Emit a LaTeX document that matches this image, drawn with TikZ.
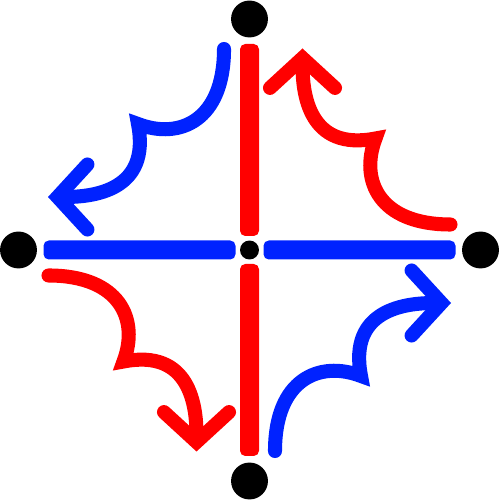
\documentclass[tikz,border=0pt]{standalone}
\usepackage{tikz}
\usetikzlibrary{arrows.meta,calc}

\definecolor{flowred}{RGB}{255,0,0}
\definecolor{flowblue}{RGB}{0,34,255}

\begin{document}
\begin{tikzpicture}[
    x=0.02cm, y=0.02cm,
    dot/.style={circle, fill=black, inner sep=0pt, minimum size=21pt},
    hub/.style={circle, fill=black, inner sep=0pt, minimum size=10.8pt},
    bar/.style={rounded corners=3pt},
    swirl/.style={line width=8pt, line cap=round, line join=miter,
        -{Straight Barb[length=17pt, width=37pt, line cap=round, line join=miter]}}
]
\useasboundingbox (0,0) rectangle (499,500);

% the five points
\node[hub] (c) at (249.5,250) {};
\node[dot] (n) at (249.5,481) {};
\node[dot] (s) at (249.5,19) {};
\node[dot] (w) at (18.5,250) {};
\node[dot] (e) at (480.5,250) {};

% the four bars
\fill[flowred, bar] ($(c)+(-9.5,14)$) rectangle ($(n)+(9.5,-25)$);
\fill[flowred, bar] ($(c)+(-9.5,-14)$) rectangle ($(s)+(9.5,25)$);
\fill[flowblue, bar] ($(c)+(-14,-9.5)$) rectangle ($(w)+(25,9.5)$);
\fill[flowblue, bar] ($(c)+(14,-9.5)$) rectangle ($(e)+(-25,9.5)$);

% the four swirls, one turned copy per quarter
\foreach \turn/\col in {0/flowblue, -90/flowred, -180/flowblue, -270/flowred}
    \draw[swirl, \col, shift={(c)}, rotate=\turn]
        (-25.5,201) to[out=-90, in=-21, out looseness=1.6] (-111.5,126)
        to[out=-79, in=0, out looseness=1.5] (-201.5,53);
\end{tikzpicture}
\end{document}
